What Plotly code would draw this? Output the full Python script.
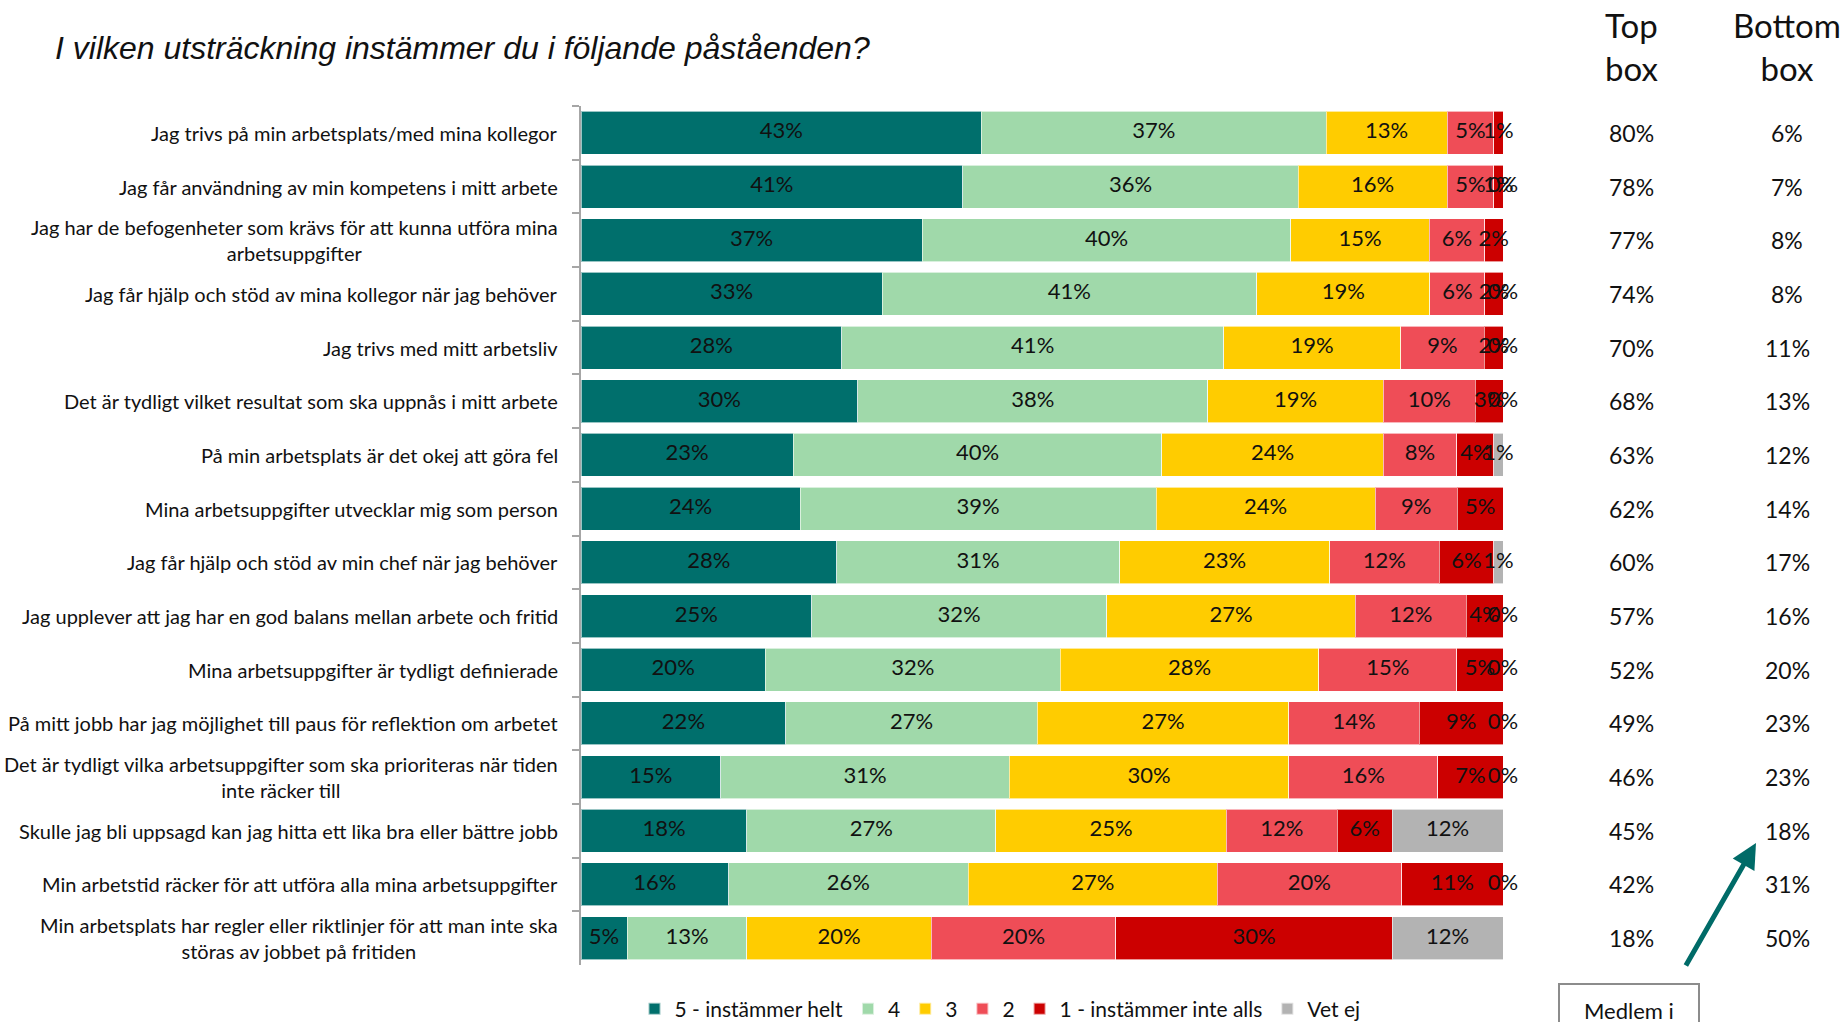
import plotly.graph_objects as go

categories = [
    "Jag trivs på min arbetsplats/med mina kollegor",
    "Jag får användning av min kompetens i mitt arbete",
    "Jag har de befogenheter som krävs för att kunna utföra mina<br>arbetsuppgifter",
    "Jag får hjälp och stöd av mina kollegor när jag behöver",
    "Jag trivs med mitt arbetsliv",
    "Det är tydligt vilket resultat som ska uppnås i mitt arbete",
    "På min arbetsplats är det okej att göra fel",
    "Mina arbetsuppgifter utvecklar mig som person",
    "Jag får hjälp och stöd av min chef när jag behöver",
    "Jag upplever att jag har en god balans mellan arbete och fritid",
    "Mina arbetsuppgifter är tydligt definierade",
    "På mitt jobb har jag möjlighet till paus för reflektion om arbetet",
    "Det är tydligt vilka arbetsuppgifter som ska prioriteras när tiden<br>inte räcker till",
    "Skulle jag bli uppsagd kan jag hitta ett lika bra eller bättre jobb",
    "Min arbetstid räcker för att utföra alla mina arbetsuppgifter",
    "Min arbetsplats har regler eller riktlinjer för att man inte ska<br>störas av jobbet på fritiden",
]

series_names = ["5 - instämmer helt", "4", "3", "2", "1 - instämmer inte alls", "Vet ej"]

s5 = [43, 41, 37, 33, 28, 30, 23, 24, 28, 25, 20, 22, 15, 18, 16, 5]
s4 = [37, 36, 40, 41, 41, 38, 40, 39, 31, 32, 32, 27, 31, 27, 26, 13]
s3 = [13, 16, 15, 19, 19, 19, 24, 24, 23, 27, 28, 27, 30, 25, 27, 20]
s2 = [5, 5, 6, 6, 9, 10, 8, 9, 12, 12, 15, 14, 16, 12, 20, 20]
s1 = [1, 1, 2, 2, 2, 3, 4, 5, 6, 4, 5, 9, 7, 6, 11, 30]
vet_ej = [None, 0, None, 0, 0, 0, 1, 0, 1, 0, 0, 0, 0, 12, 0, 12]

top_box = ["80%", "78%", "77%", "74%", "70%", "68%", "63%", "62%", "60%", "57%", "52%", "49%", "46%", "45%", "42%", "18%"]
bottom_box = ["6%", "7%", "8%", "8%", "11%", "13%", "12%", "14%", "17%", "16%", "20%", "23%", "23%", "18%", "31%", "50%"]

colors = ["#006F6C", "#A0D9AA", "#FFCC00", "#EF4D57", "#CC0000", "#B3B3B3"]

series = [s5, s4, s3, s2, s1, vet_ej]

# plot-area geometry (pixels)
W, H = 1844, 1022
L, R, T, B = 581, 1844 - 1503, 106, 1022 - 965
PW, PH = W - L - R, H - T - B


def px_x(px):
    return (px - L) / PW


def px_y(py):
    return (H - B - py) / PH


FONT = "Lato"
TXT = "#111111"
fig = go.Figure()

for name, vals, col in zip(series_names, series, colors):
    fig.add_trace(go.Bar(
        y=categories, x=[v if v is not None else 0 for v in vals], name=name,
        orientation="h", marker=dict(color=col, line=dict(color="rgba(255,255,255,0.6)", width=1)),
        hoverinfo="skip",
    ))

# data labels at segment centres (normalised stacks)
lx, ly, lt = [], [], []
for i, cat in enumerate(categories):
    vals = [s[i] for s in series]
    tot = sum(v for v in vals if v is not None)
    cum = 0.0
    for v in vals:
        if v is None:
            continue
        w = v / tot * 100
        lx.append(cum + w / 2)
        ly.append(cat)
        lt.append(f"{v}%")
        cum += w

fig.add_trace(go.Scatter(
    x=lx, y=ly, text=lt, mode="text", showlegend=False, hoverinfo="skip",
    textfont=dict(family=FONT, size=22, color=TXT), cliponaxis=False,
))

annotations = []
for i, cat in enumerate(categories):
    annotations.append(dict(
        x=px_x(560), xref="paper", y=cat, yref="y", text=cat, showarrow=False,
        xanchor="right", align="center", font=dict(family=FONT, size=20, color=TXT),
    ))
    annotations.append(dict(
        x=px_x(1631), xref="paper", y=cat, yref="y", text=top_box[i], showarrow=False,
        xanchor="center", font=dict(family=FONT, size=23, color=TXT),
    ))
    annotations.append(dict(
        x=px_x(1787), xref="paper", y=cat, yref="y", text=bottom_box[i], showarrow=False,
        xanchor="center", font=dict(family=FONT, size=23, color=TXT),
    ))

annotations.append(dict(x=px_x(1631), y=px_y(47), xref="paper", yref="paper", text="Top<br>box",
                        showarrow=False, xanchor="center", yanchor="middle", align="center",
                        font=dict(family=FONT, size=33, color=TXT)))
annotations.append(dict(x=px_x(1787), y=px_y(47), xref="paper", yref="paper", text="Bottom<br>box",
                        showarrow=False, xanchor="center", yanchor="middle", align="center",
                        font=dict(family=FONT, size=33, color=TXT)))
annotations.append(dict(x=px_x(53), y=px_y(48), xref="paper", yref="paper",
                        text="<i>I vilken utsträckning instämmer du i följande påståenden?</i>",
                        showarrow=False, xanchor="left", yanchor="middle",
                        font=dict(family="Liberation Sans, Arial", size=32, color=TXT)))
annotations.append(dict(x=px_x(1756), y=px_y(843), xref="paper", yref="paper", text="",
                        showarrow=True, ax=1685 - 1756, ay=967 - 843, arrowhead=2, arrowsize=1,
                        arrowwidth=5, arrowcolor="#006B68"))
annotations.append(dict(x=px_x(1629), y=px_y(1010), xref="paper", yref="paper", text="Medlem i",
                        showarrow=False, xanchor="center", yanchor="middle",
                        font=dict(family=FONT, size=22, color=TXT)))

n = len(categories)
fig.update_layout(
    width=W, height=H, barmode="stack", barnorm="percent", bargap=0.2,
    margin=dict(l=L, r=R, t=T, b=B, autoexpand=False),
    plot_bgcolor="white", paper_bgcolor="white",
    annotations=annotations,
    shapes=[dict(type="rect", xref="paper", yref="paper", x0=px_x(1559), x1=px_x(1699),
                 y0=px_y(984), y1=px_y(1040), line=dict(color="#8C8C8C", width=2),
                 fillcolor="white", layer="below")],
    legend=dict(orientation="h", x=px_x(1000), xanchor="center", y=px_y(1009), yanchor="middle",
                font=dict(family=FONT, size=21, color=TXT), traceorder="normal",
                itemsizing="constant", bgcolor="rgba(0,0,0,0)"),
    xaxis=dict(range=[0, 100], visible=False, fixedrange=True),
    yaxis=dict(range=[n - 0.5, -0.5], showticklabels=False, showline=True, linecolor="#A6A6A6",
               linewidth=2, ticks="outside", tickson="boundaries", ticklen=7, tickcolor="#A6A6A6",
               tickwidth=2, showgrid=False, fixedrange=True),
    showlegend=True,
)

fig.write_html("out.html", config={"displayModeBar": False},
               post_script="document.body.style.margin='0';document.body.style.overflow='hidden';")
